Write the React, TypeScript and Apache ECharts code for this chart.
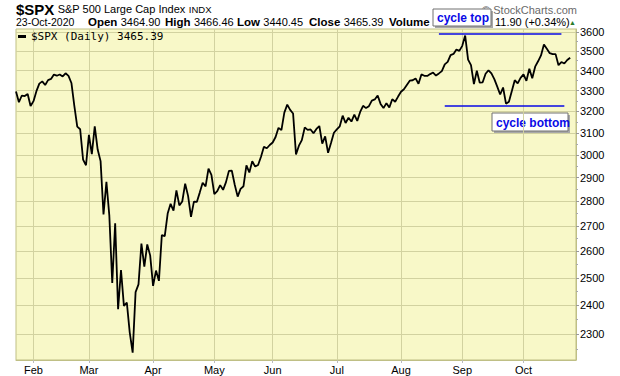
import React, { useEffect, useRef } from "react";
import * as echarts from "echarts";

const FONT = '"Liberation Sans", Arial, sans-serif';
const MONO = '"DejaVu Sans Mono", monospace';

// ---- header data ----
const symbol = "$SPX";
const title = "S&P 500 Large Cap Index";
const exchange = "INDX";
const asOf = "23-Oct-2020";
const quoteLabels = ["Open", "High", "Low", "Close"];
const quoteValues = ["3464.90", "3466.46", "3440.45", "3465.39"];
const changeText = "11.90 (+0.34%)";

// ---- x categories: trading days Jan..Oct 2020 (last two Oct days are right padding) ----
const monthNames = ["Jan", "Feb", "Mar", "Apr", "May", "Jun", "Jul", "Aug", "Sep", "Oct"];
const tradingDays: number[][] = [
  [24, 27, 28, 29, 30, 31],
  [3, 4, 5, 6, 7, 10, 11, 12, 13, 14, 18, 19, 20, 21, 24, 25, 26, 27, 28],
  [2, 3, 4, 5, 6, 9, 10, 11, 12, 13, 16, 17, 18, 19, 20, 23, 24, 25, 26, 27, 30, 31],
  [1, 2, 3, 6, 7, 8, 9, 13, 14, 15, 16, 17, 20, 21, 22, 23, 24, 27, 28, 29, 30],
  [1, 4, 5, 6, 7, 8, 11, 12, 13, 14, 15, 18, 19, 20, 21, 22, 26, 27, 28, 29],
  [1, 2, 3, 4, 5, 8, 9, 10, 11, 12, 15, 16, 17, 18, 19, 22, 23, 24, 25, 26, 29, 30],
  [1, 2, 6, 7, 8, 9, 10, 13, 14, 15, 16, 17, 20, 21, 22, 23, 24, 27, 28, 29, 30, 31],
  [3, 4, 5, 6, 7, 10, 11, 12, 13, 14, 17, 18, 19, 20, 21, 24, 25, 26, 27, 28, 31],
  [1, 2, 3, 4, 8, 9, 10, 11, 14, 15, 16, 17, 18, 21, 22, 23, 24, 25, 28, 29, 30],
  [1, 2, 5, 6, 7, 8, 9, 12, 13, 14, 15, 16, 19, 20, 21, 22, 23, 26, 27],
];

// ---- daily closes ----
const closes = [
  3295.47, 3243.63, 3276.24, 3273.4, 3283.66, 3225.52,
  3248.92, 3297.59, 3334.69, 3345.78, 3327.71, 3352.09, 3357.75, 3379.45, 3373.94, 3380.16, 3370.29, 3386.15, 3373.23, 3337.75, 3225.89, 3128.21, 3116.39, 2978.76, 2954.22,
  3090.23, 3003.37, 3130.12, 3023.94, 2972.37, 2746.56, 2882.23, 2741.38, 2480.64, 2711.02, 2386.13, 2529.19, 2398.1, 2409.39, 2304.92, 2237.4, 2447.33, 2475.56, 2630.07, 2541.47, 2626.65, 2584.59,
  2470.5, 2526.9, 2488.65, 2663.68, 2659.41, 2749.98, 2789.82, 2761.63, 2846.06, 2783.36, 2799.55, 2874.56, 2823.16, 2736.56, 2799.31, 2797.8, 2836.74, 2878.48, 2863.39, 2939.51, 2912.43,
  2830.71, 2842.74, 2868.44, 2848.42, 2881.19, 2929.8, 2930.32, 2870.12, 2820.0, 2852.5, 2863.7, 2953.91, 2922.94, 2971.61, 2948.51, 2955.45, 2991.77, 3036.13, 3029.73, 3044.31,
  3055.73, 3080.82, 3122.87, 3112.35, 3193.93, 3232.39, 3207.18, 3190.14, 3002.1, 3041.31, 3066.59, 3124.74, 3113.49, 3115.34, 3097.74, 3117.86, 3131.29, 3050.33, 3083.76, 3009.05, 3053.24, 3100.29,
  3115.86, 3130.01, 3179.72, 3145.32, 3169.94, 3152.05, 3185.04, 3155.22, 3197.52, 3226.56, 3215.57, 3224.73, 3251.84, 3257.3, 3276.02, 3235.66, 3215.63, 3239.41, 3218.44, 3258.44, 3246.22, 3271.12,
  3294.61, 3306.51, 3327.77, 3349.16, 3351.28, 3360.47, 3333.69, 3380.35, 3373.43, 3372.85, 3381.99, 3389.78, 3374.85, 3385.51, 3397.16, 3431.28, 3443.62, 3478.73, 3484.55, 3508.01, 3500.31,
  3526.65, 3580.84, 3455.06, 3426.96, 3331.84, 3398.96, 3339.19, 3340.97, 3383.54, 3401.2, 3385.49, 3357.01, 3319.47, 3281.06, 3315.57, 3236.92, 3246.59, 3298.46, 3351.6, 3335.47, 3363.0,
  3380.8, 3348.42, 3408.6, 3360.97, 3419.44, 3446.83, 3477.14, 3534.22, 3511.93, 3488.67, 3483.34, 3483.81, 3426.92, 3443.12, 3435.56, 3453.49, 3465.39,
];

// ---- y axis ----
const yMin = 2213;
const yMax = 3616;
const yTicks = [2300, 2400, 2500, 2600, 2700, 2800, 2900, 3000, 3100, 3200, 3300, 3400, 3500, 3600];
const yMinorTicks = [2250, 2350, 2450, 2550, 2650, 2750, 2850, 2950, 3050, 3150, 3250, 3350, 3450, 3550];

// ---- annotations ----
const cycleTopLevel = 3590;
const cycleTopSpan = ["2020-08-20", "2020-10-20"];
const cycleBottomLevel = 3226;
const cycleBottomSpan = ["2020-08-24", "2020-10-21"];

const pad = (n: number) => (n < 10 ? "0" + n : "" + n);
const dates: string[] = [];
const firstOfMonth = new Set<number>();
tradingDays.forEach((days, m) => {
  days.forEach((d, k) => {
    if (k === 0 && m > 0) firstOfMonth.add(dates.length);
    dates.push(`2020-${pad(m + 1)}-${pad(d)}`);
  });
});

const seriesName = `${symbol} (Daily) ${closes[closes.length - 1].toFixed(2)}`;

const PLOT_BG = "#f8f8c8";
const BORDER = "#bfbf85";
const GRID = "#d2d2a0";
const BLUE = "#0a0ae6";

function boxLabel(x: number, y: number, w: number, h: number, text: string) {
  return {
    type: "group",
    x,
    y,
    children: [
      { type: "rect", shape: { x: 2, y: 2, width: w, height: h }, style: { fill: "#a8a8a8" } },
      { type: "rect", shape: { x: 0, y: 0, width: w, height: h }, style: { fill: "#ffffff", stroke: "#707070", lineWidth: 1 } },
      {
        type: "text",
        x: 4,
        y: h / 2 + 0.5,
        style: { text, font: `bold 12px ${FONT}`, fill: BLUE, textVerticalAlign: "middle" },
      },
    ],
  };
}

export default function App() {
  const ref = useRef<HTMLDivElement>(null);
  useEffect(() => {
    if (!ref.current) return;
    const chart = echarts.init(ref.current, null, { renderer: "svg" });
    const quoteX = [88, 165, 237, 309];
    const option: any = {
      animation: false,
      backgroundColor: "#ffffff",
      grid: {
        left: 16,
        right: 44,
        top: 29,
        bottom: 16,
        show: true,
        backgroundColor: PLOT_BG,
        borderColor: BORDER,
        borderWidth: 1,
        outerBoundsMode: "none",
      },
      legend: {
        show: true,
        left: 18,
        top: 29,
        padding: [2, 0, 0, 0],
        icon: "rect",
        itemWidth: 8,
        itemHeight: 3,
        textStyle: { fontFamily: MONO, fontSize: 11, color: "#000" },
        data: [{ name: seriesName, itemStyle: { color: "#000" } }],
      },
      xAxis: {
        type: "category",
        data: dates,
        boundaryGap: false,
        axisLine: { show: true, lineStyle: { color: BORDER } },
        axisTick: {
          show: true,
          interval: (i: number) => firstOfMonth.has(i),
          length: 3,
          lineStyle: { color: "#bbbbbb" },
        },
        axisLabel: {
          interval: (i: number) => firstOfMonth.has(i),
          formatter: (v: string) => monthNames[parseInt(v.slice(5, 7), 10) - 1],
          color: "#000",
          fontFamily: FONT,
          fontSize: 11,
          margin: 4,
        },
        splitLine: {
          show: true,
          interval: (i: number) => firstOfMonth.has(i),
          lineStyle: { color: GRID, width: 1 },
        },
      },
      yAxis: [
        {
          type: "log",
          logBase: 10,
          position: "right",
          min: yMin,
          max: yMax,
          axisLine: { show: true, lineStyle: { color: BORDER } },
          axisTick: { show: true, customValues: yTicks, length: 3, lineStyle: { color: "#999" } },
          axisLabel: {
            customValues: yTicks,
            formatter: (v: number) => String(Math.round(v)),
            color: "#000",
            fontFamily: FONT,
            fontSize: 11,
            margin: 4,
          },
          splitLine: { show: true, lineStyle: { color: GRID, width: 1 } },
        },
        {
          type: "log",
          logBase: 10,
          position: "right",
          min: yMin,
          max: yMax,
          axisLine: { show: false },
          axisTick: { show: true, customValues: yMinorTicks, length: 2, lineStyle: { color: "#aaa" } },
          axisLabel: { show: false },
          splitLine: { show: false },
        },
      ],
      series: [
        {
          name: seriesName,
          type: "line",
          data: closes,
          yAxisIndex: 0,
          showSymbol: false,
          symbol: "none",
          lineStyle: { color: "#000", width: 1.8 },
          itemStyle: { color: "#000" },
          markLine: {
            silent: true,
            symbol: "none",
            label: { show: false },
            lineStyle: { color: BLUE, width: 1.5, type: "solid" },
            data: [
              [{ coord: [cycleTopSpan[0], cycleTopLevel] }, { coord: [cycleTopSpan[1], cycleTopLevel] }],
              [{ coord: [cycleBottomSpan[0], cycleBottomLevel] }, { coord: [cycleBottomSpan[1], cycleBottomLevel] }],
            ],
          },
        },
      ],
      graphic: [
        {
          type: "text",
          x: 16,
          y: 9,
          style: {
            text: `{s|${symbol}} {t|${title}} {e|${exchange}}`,
            textVerticalAlign: "middle",
            rich: {
              s: { font: `bold 15px ${FONT}`, fill: "#000" },
              t: { font: `11px ${FONT}`, fill: "#000" },
              e: { font: `9.5px ${FONT}`, fill: "#000" },
            },
          },
        },
        {
          type: "text",
          x: 16,
          y: 22,
          style: { text: asOf, font: `10.5px ${FONT}`, fill: "#000", textVerticalAlign: "middle" },
        },
        ...quoteLabels.map((lab, i) => ({
          type: "text",
          x: quoteX[i],
          y: 22,
          style: {
            text: `{b|${lab}} {r|${quoteValues[i]}}`,
            textVerticalAlign: "middle",
            rich: {
              b: { font: `bold 11.5px ${FONT}`, fill: "#000" },
              r: { font: `11px ${FONT}`, fill: "#000" },
            },
          },
        })),
        {
          type: "text",
          x: 389,
          y: 22,
          style: { text: "Volume", font: `bold 11.5px ${FONT}`, fill: "#000", textVerticalAlign: "middle" },
        },
        {
          type: "text",
          x: 495,
          y: 22,
          style: { text: changeText, font: `11px ${FONT}`, fill: "#000", textVerticalAlign: "middle" },
        },
        {
          type: "text",
          x: 569,
          y: 22,
          style: { text: "▲", font: `7px ${FONT}`, fill: "#2a7a2a", textVerticalAlign: "middle" },
        },
        {
          type: "text",
          x: 577,
          y: 10,
          style: {
            text: "© StockCharts.com",
            font: `11px ${FONT}`,
            fill: "#6a6a6a",
            textAlign: "right",
            textVerticalAlign: "middle",
          },
        },
        boxLabel(433, 9, 58, 17, "cycle top"),
        boxLabel(492, 113, 76, 18, "cycle bottom"),
      ],
    };
    chart.setOption(option);
    return () => chart.dispose();
  }, []);
  return <div ref={ref} style={{ position: "absolute", left: 0, top: 0, width: 620, height: 376 }} />;
}
